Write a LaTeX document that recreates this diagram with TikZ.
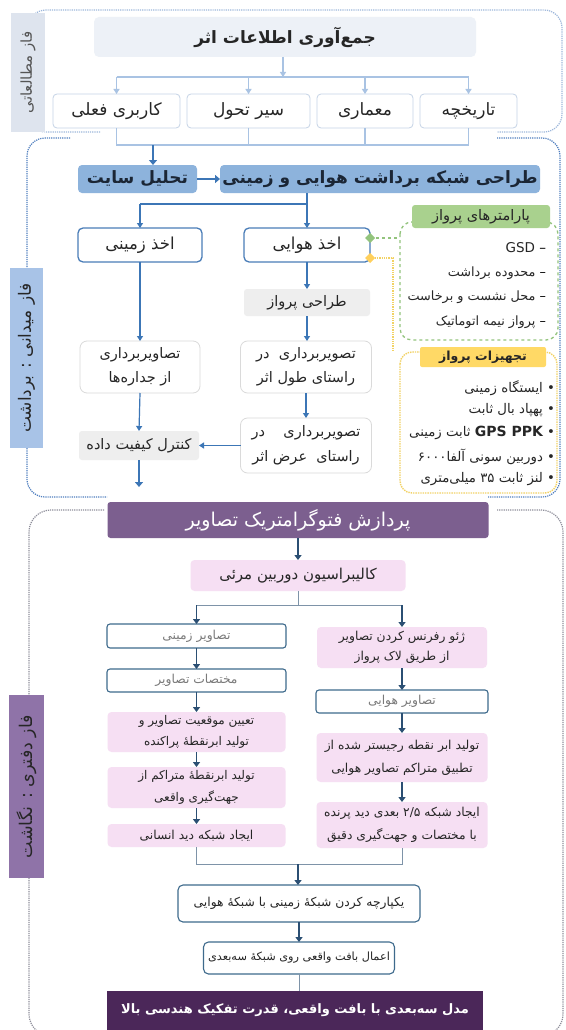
\documentclass[tikz,border=0pt]{standalone}
\usepackage{fontspec}
\newfontfamily\farsi[Script=Arabic]{DejaVu Sans}
\newfontfamily\latinfont{DejaVu Sans}
\TeXXeTstate=1
\usetikzlibrary{arrows.meta}
\newcommand{\fa}[1]{\beginR #1\endR}
\newcommand{\gdash}{\textcolor{graytxt}{\latinfont –}}
\definecolor{txt}{HTML}{262626}
\definecolor{r1line}{HTML}{C5D3E6}
\definecolor{r1arr}{HTML}{A9C3E3}
\definecolor{titlefill}{HTML}{EDF1F7}
\definecolor{lab1fill}{HTML}{DEE4EE}
\definecolor{reg1}{HTML}{9DB7DB}
\definecolor{reg2}{HTML}{4F7EBF}
\definecolor{reg3}{HTML}{8E8E9A}
\definecolor{bluefill}{HTML}{8DB3DC}
\definecolor{bluetxt}{HTML}{1B2635}
\definecolor{arr2}{HTML}{3C76B6}
\definecolor{acqline}{HTML}{4A7DB8}
\definecolor{grayfill}{HTML}{EEEEEE}
\definecolor{lightline}{HTML}{DADADA}
\definecolor{lab2fill}{HTML}{A8C3E7}
\definecolor{greenfill}{HTML}{A9D18E}
\definecolor{greenline}{HTML}{93C47D}
\definecolor{yellowfill}{HTML}{FFD966}
\definecolor{yellowline}{HTML}{F2D264}
\definecolor{ptfill}{HTML}{7C5F8F}
\definecolor{pinkfill}{HTML}{F6DFF3}
\definecolor{r3line}{HTML}{3E6A8C}
\definecolor{r3arr}{HTML}{2B4F73}
\definecolor{r3thin}{HTML}{7E93A8}
\definecolor{finalfill}{HTML}{4B2759}
\definecolor{lab3fill}{HTML}{8F73A8}
\definecolor{graytxt}{HTML}{7A7A7A}
\begin{document}
\begin{tikzpicture}[x=1pt,y=-1pt,
  every node/.style={inner sep=0pt,outer sep=0pt,align=center,font=\farsi,text=txt},
  sz/.style 2 args={minimum width=#1,minimum height=#2},
  fs/.style 2 args={font=\farsi\fontsize{#1}{#2}\selectfont},
  fsb/.style 2 args={font=\farsi\bfseries\fontsize{#1}{#2}\selectfont},
  titlebox/.style={fill=titlefill,rounded corners=5pt},
  r1box/.style={draw=r1line,line width=0.8pt,fill=white,rounded corners=4pt},
  labbox/.style={rotate=90},
  bluebox/.style={fill=bluefill,rounded corners=4pt,text=bluetxt},
  acqbox/.style={draw=acqline,line width=1.3pt,fill=white,rounded corners=5pt},
  graybox/.style={fill=grayfill,rounded corners=3pt},
  lightbox/.style={draw=lightline,line width=0.8pt,fill=white,rounded corners=7pt},
  r3box/.style={draw=r3line,line width=1.1pt,fill=white,rounded corners=3pt},
  pinkbox/.style={fill=pinkfill,rounded corners=4pt},
  a1/.style={draw=r1arr,line width=1.2pt,-{Triangle[length=5pt,width=6pt]}},
  l1/.style={draw=r1arr,line width=1.1pt},
  a2/.style={draw=arr2,line width=1.2pt,-{Triangle[length=5pt,width=6pt]}},
  a2thick/.style={draw=arr2,line width=2.2pt,-{Triangle[length=5pt,width=8pt]}},
  l2/.style={draw=arr2,line width=1.2pt},
  a3/.style={draw=r3arr,line width=1.8pt,-{Triangle[length=5pt,width=7pt]}},
  l3/.style={draw=r3thin,line width=0.9pt},
  reg1line/.style={draw=reg1,densely dotted,line width=1.2pt,rounded corners=18pt},
  reg2line/.style={draw=reg2,densely dotted,line width=1.2pt,rounded corners=18pt},
  reg3line/.style={draw=reg3,densely dotted,line width=1.2pt,rounded corners=22pt}
]
\useasboundingbox (0,0) rectangle (565,1030);
\fill[white] (0,0) rectangle (565,1030);

% ---- region borders
\draw[reg1line] (100,132) -- (28,132) -- (28,10) -- (562,10) -- (562,132) -- (497,132);
\draw[reg2line] (70,138) -- (27,138) -- (27,497) -- (107,497);
\draw[reg2line] (497,138) -- (560,138) -- (560,497) -- (488,497);
\draw[reg3line] (104,510) -- (29,510) -- (29,1036) -- (107,1036);
\draw[reg3line] (497,510) -- (563,510) -- (563,1036) -- (483,1036);

% ---- region 1
\node[titlebox,sz={382}{40},fsb={17}{20}] (title) at (285,37) {\fa{جمع‌آوری اطلاعات اثر}};
\node[r1box,sz={127}{34},fs={17}{20}] (b1) at (116.5,111) {\fa{کاربری فعلی}};
\node[r1box,sz={123}{34},fs={17}{20}] (b2) at (248.5,111) {\fa{سیر تحول}};
\node[r1box,sz={96}{34},fs={17}{20}] (b3) at (365,111) {\fa{معماری}};
\node[r1box,sz={97}{34},fs={17}{20}] (b4) at (468.5,111) {\fa{تاریخچه}};
\node[labbox,fill=lab1fill,sz={119}{34},fs={15}{17},text=graytxt!70!black] (lab1) at (28,72.5) {\fa{فاز مطالعاتی}};

\coordinate (d0) at (283,77);
\draw[a1] (title.south -| d0) -- (d0);
\draw[l1] (b1.north |- d0) -- (b4.north |- d0);
\foreach \b in {b1,b2,b3,b4} {\draw[a1] (\b.north |- d0) -- (\b.north);}
\coordinate (d1) at (153,145);
\draw[l1] (b1.south) -- (b1.south |- d1) -- (b4.south |- d1) -- (b4.south);
\draw[l1] (b2.south) -- (b2.south |- d1);
\draw[l1] (b3.south) -- (b3.south |- d1);

% ---- region 2
\node[bluebox,sz={119}{28},fsb={17}{20}] (ta) at (137.5,179) {\fa{تحلیل سایت}};
\node[bluebox,sz={320}{28},fsb={17}{20}] (tg) at (380,179) {\fa{طراحی شبکه برداشت هوایی و زمینی}};
\draw[a2thick] (d1) -- (d1 |- ta.north);
\draw[a2thick] (ta.east) -- (tg.west);

\node[acqbox,sz={124}{34},fs={16.5}{19}] (az) at (140,245) {\fa{اخذ زمینی}};
\node[acqbox,sz={126}{34},fs={16.5}{19}] (ah) at (307,245) {\fa{اخذ هوایی}};
\node[graybox,sz={126}{27},fs={14.5}{17}] (tp) at (307,302.5) {\fa{طراحی پرواز}};
\node[lightbox,sz={120}{52},fs={14.5}{24}] (tj) at (140,367) {\fa{تصاویربرداری}\\\fa{از جداره‌ها}};
\node[lightbox,sz={131}{52},fs={14.5}{24}] (tt) at (306,367) {\fa{تصویربرداری\ \ در}\\\fa{راستای طول اثر}};
\node[lightbox,sz={131}{55},fs={14.5}{25}] (to) at (306,445.5) {\fa{تصویربرداری\ \ \ \ در}\\\fa{راستای\ \ عرض اثر}};
\node[graybox,sz={120}{29},fs={14.5}{17}] (kk) at (139,445.5) {\fa{کنترل کیفیت داده}};
\node[labbox,fill=lab2fill,sz={180}{33},fs={17}{19}] (lab2) at (26.5,358) {\fa{فاز میدانی : برداشت}};

\coordinate (d2) at (307,204);
\draw[l2] (tg.south -| d2) -- (d2) -- (d2 -| az.north);
\draw[a2] (d2 -| az.north) -- (az.north);
\draw[a2] (d2) -- (ah.north);
\draw[a2] (ah.south) -- (tp.north);
\draw[a2] (tp.south) -- (tp.south |- tt.north);
\draw[a2] (tt.south) -- (to.north);
\draw[a2] (az.south) -- (tj.north);
\draw[a2] (tj.south) -- (kk.north);
\draw[a2] (to.west) -- (kk.east);
\coordinate (d3) at (139,487);
\draw[a2thick] (kk.south) -- (d3);

% green box
\draw[draw=greenline,dashed,line width=1.3pt,rounded corners=12pt] (400,222) rectangle (558,340);
\coordinate (gbw) at (400,238);
\node[fill=greenfill,rounded corners=3pt,sz={138}{23},fs={14.5}{17}] (gh) at (481,216.5) {\fa{پارامترهای پرواز}};
\node[anchor=east,fs={13.5}{15}] (g1) at (546,248) {\fa{\gdash{} GSD}};
\node[anchor=east,fs={12.8}{15}] (g2) at (546,273) {\fa{\gdash{} محدوده برداشت}};
\node[anchor=east,fs={12.8}{15}] (g3) at (546,297) {\fa{\gdash{} محل نشست و برخاست}};
\node[anchor=east,fs={12.8}{15}] (g4) at (546,322) {\fa{\gdash{} پرواز نیمه اتوماتیک}};

% yellow box
\draw[draw=yellowline,densely dotted,line width=1.4pt,rounded corners=12pt] (400,352) rectangle (557,493);
\node[fill=yellowfill,rounded corners=2pt,sz={126}{20},fsb={12.5}{14}] (yh) at (483,357) {\fa{تجهیزات پرواز}};
\node[anchor=east,fs={13.3}{15}] (y1) at (555,388) {\fa{• ایستگاه زمینی}};
\node[anchor=east,fs={13.3}{15}] (y2) at (555,410) {\fa{• پهپاد بال ثابت}};
\node[anchor=east,fs={13.3}{15}] (y3) at (555,433) {\fa{• \beginL{\bfseries\fontsize{14}{15}\selectfont GPS PPK}\endL{} ثابت زمینی}};
\node[anchor=east,fs={13.3}{15}] (y4) at (555,457) {\fa{• دوربین سونی آلفا۶۰۰۰}};
\node[anchor=east,fs={13.3}{15}] (y5) at (555,479) {\fa{• لنز ثابت ۳۵ میلی‌متری}};

% connectors to side boxes (diamond ends)
\coordinate (gdm) at (370,238);
\coordinate (ydm) at (370,258);
\coordinate (yc) at (393,352);
\draw[draw=greenline,dashed,line width=1.3pt] (gdm) -- (gbw);
\draw[draw=yellowline,densely dotted,line width=1.3pt] (ydm) -| (yc);
\fill[greenline] (gdm) ++(0,-5) -- ++(5,5) -- ++(-5,5) -- ++(-5,-5) -- cycle;
\fill[yellowfill!90!orange] (ydm) ++(0,-5) -- ++(5,5) -- ++(-5,5) -- ++(-5,-5) -- cycle;

% ---- region 3
\node[fill=ptfill,rounded corners=3pt,sz={381}{36},fs={19}{22},text=white] (pt) at (298,520) {\fa{پردازش فتوگرامتریک تصاویر}};
\node[pinkbox,sz={215}{31},fs={15}{17}] (kl) at (298,575.5) {\fa{کالیبراسیون دوربین مرئی}};
\node[r3box,sz={179}{24},fs={12.3}{14},text=graytxt] (tz) at (196.5,636) {\fa{تصاویر زمینی}};
\node[pinkbox,sz={170}{41},fs={12.3}{20}] (zr) at (402,647.5) {\fa{ژئو رفرنس کردن تصاویر}\\\fa{از طریق لاک پرواز}};
\node[r3box,sz={179}{23},fs={12.3}{14},text=graytxt] (mk) at (196.5,680.5) {\fa{مختصات تصاویر}};
\node[r3box,sz={172}{23},fs={12.3}{14},text=graytxt] (th) at (402,701.5) {\fa{تصاویر هوایی}};
\node[pinkbox,sz={178}{40},fs={12}{21}] (tm) at (196.5,732) {\fa{تعیین موقعیت تصاویر و}\\\fa{تولید ابرنقطهٔ پراکنده}};
\node[pinkbox,sz={178}{41},fs={12}{22}] (tmo) at (196.5,787.5) {\fa{تولید ابرنقطهٔ متراکم از}\\\fa{جهت‌گیری واقعی}};
\node[pinkbox,sz={178}{23},fs={12.3}{14}] (ed) at (196.5,835.5) {\fa{ایجاد شبکه دید انسانی}};
\node[pinkbox,sz={171}{49},fs={12.3}{23}] (tr) at (402,757.5) {\fa{تولید ابر نقطه رجیستر شده از}\\\fa{تطبیق متراکم تصاویر هوایی}};
\node[pinkbox,sz={171}{46},fs={12.3}{23}] (e25) at (402,825) {\fa{ایجاد شبکه ۲/۵ بعدی دید پرنده}\\\fa{با مختصات و جهت‌گیری دقیق}};
\node[r3box,rounded corners=5pt,sz={242}{37},fs={12.3}{14}] (yk) at (299,903.5) {\fa{یکپارچه کردن شبکهٔ زمینی با شبکهٔ هوایی}};
\node[r3box,rounded corners=5pt,sz={191}{32},fs={11.3}{13}] (ab) at (299,958) {\fa{اعمال بافت واقعی روی شبکهٔ سه‌بعدی}};
\node[fill=finalfill,sz={376}{39},fsb={13}{15},text=white] (fm) at (295,1010.5) {\fa{مدل سه‌بعدی با بافت واقعی، قدرت تفکیک هندسی بالا}};
\node[labbox,fill=lab3fill,sz={183}{35},fs={17.5}{19}] (lab3) at (26.5,786.5) {\fa{فاز دفتری : نگاشت}};

\draw[a3] (pt.south) -- (kl.north);
\coordinate (d4) at (298,605);
\draw[l3] (kl.south) -- (d4);
\draw[l3] (d4 -| tz.north) -- (d4 -| zr.north);
\draw[a3] (d4 -| tz.north) -- (tz.north);
\draw[a3] (d4 -| zr.north) -- (zr.north);
\draw[a3] (tz.south) -- (mk.north);
\draw[a3] (mk.south) -- (tm.north);
\draw[a3] (tm.south) -- (tmo.north);
\draw[a3] (tmo.south) -- (ed.north);
\draw[a3] (zr.south) -- (th.north);
\draw[a3] (th.south) -- (tr.north);
\draw[a3] (tr.south) -- (e25.north);
\coordinate (d5) at (298,864);
\draw[l3] (ed.south) -- (ed.south |- d5) -- (e25.south |- d5) -- (e25.south);
\draw[a3] (d5) -- (d5 |- yk.north);
\draw[a3] (yk.south) -- (ab.north);
\draw[l3] (ab.south) -- (ab.south |- fm.north);
\end{tikzpicture}
\end{document}
